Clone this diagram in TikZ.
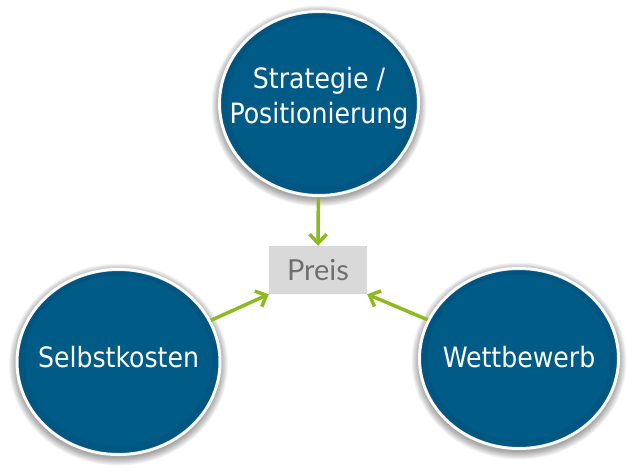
\documentclass[tikz,border=0pt]{standalone}
\usepackage{fontspec}
\setmainfont{DejaVu Sans Condensed}
\newfontfamily\latofont{Lato}
\usetikzlibrary{arrows.meta,shapes.geometric,backgrounds}
\definecolor{circblue}{RGB}{0,91,135}
\definecolor{rimblue}{RGB}{0,50,80}
\definecolor{arrgreen}{RGB}{140,187,32}
\definecolor{boxgray}{RGB}{217,217,217}
\definecolor{txtgray}{RGB}{112,112,112}
\tikzset{
  bubble/.style={ellipse, fill=circblue, draw=white, line width=3pt, inner sep=0pt},
  bubbletext/.style={text=white, font=\fontsize{28}{35}\selectfont, align=center, inner sep=0pt},
  pricebox/.style={rectangle, fill=boxgray, inner sep=0pt, minimum width=98pt, minimum height=48pt,
    text=txtgray, font=\latofont\fontsize{29}{30}\selectfont},
  flow/.style={draw=arrgreen, line width=3.5pt, -{Straight Barb[length=9pt,width=17pt,line width=3.5pt]}},
  softshadow/.style={fill=black, opacity=0.035},
  innerrim/.style={draw=rimblue, opacity=0.09, line width=1.2pt}
}
\begin{document}
\begin{tikzpicture}[x=1pt,y=-1pt]
\useasboundingbox (0,0) rectangle (636,471);

\node[bubble, minimum width=199pt, minimum height=184pt,
  label={[bubbletext, yshift=5pt]center:{Strategie /\\Positionierung}}] (strat) at (319,103.5) {};
\node[bubble, minimum width=203pt, minimum height=185pt,
  label={[bubbletext, yshift=4.5pt]center:{Selbstkosten}}] (selbst) at (118.5,362) {};
\node[bubble, minimum width=199pt, minimum height=180pt,
  label={[bubbletext, yshift=1pt]center:{Wettbewerb}}] (wett) at (519,358.5) {};

\node[pricebox] (preis) at (318,270) {\raisebox{-2pt}{Preis}};

\begin{scope}[on background layer]
  \fill[white] (0,0) rectangle (636,471);
  \foreach \i in {0,...,10} {
    \fill[softshadow] ([yshift=-2.5pt]strat.center) ellipse ({100pt+\i*0.75pt} and {93pt+\i*0.75pt});
    \fill[softshadow] ([yshift=-2.5pt]selbst.center) ellipse ({102pt+\i*0.75pt} and {93.5pt+\i*0.75pt});
    \fill[softshadow] ([yshift=-2.5pt]wett.center) ellipse ({100pt+\i*0.75pt} and {91pt+\i*0.75pt});
  }
\end{scope}

% soft inner shading near the rim (stronger at the bottom)
\foreach \i in {0,...,5} {
  \draw[innerrim] ([yshift={\i*0.25pt}]strat.center) ellipse ({97.6pt-\i*1.1pt} and {90.6pt-\i*1.1pt});
  \draw[innerrim] ([yshift={\i*0.25pt}]selbst.center) ellipse ({99.6pt-\i*1.1pt} and {91.1pt-\i*1.1pt});
  \draw[innerrim] ([yshift={\i*0.25pt}]wett.center) ellipse ({97.6pt-\i*1.1pt} and {88.6pt-\i*1.1pt});
}

\draw[flow, shorten <=1pt] (strat) -- (preis.north);
\draw[flow] (selbst) -- (preis.south west);
\draw[flow] (wett) -- (preis.south east);
\end{tikzpicture}
\end{document}
